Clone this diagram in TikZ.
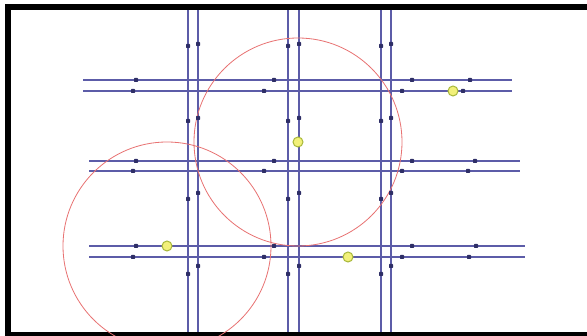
\documentclass[tikz,border=0pt]{standalone}
\usepackage{xcolor}
\definecolor{trackblue}{HTML}{5C5CA8}
\definecolor{stopnavy}{HTML}{2E2E66}
\definecolor{reachred}{HTML}{E87272}
\definecolor{hubfill}{HTML}{F2F07A}
\definecolor{hubrim}{HTML}{A8B83A}
\usepackage{tikz}
\usetikzlibrary{positioning}

\begin{document}
\begin{tikzpicture}[x=1pt, y=-1pt,
      track/.style={draw=trackblue, line width=1.2pt},
      reach/.style={draw=reachred, line width=0.8pt},
      stop/.style={fill=stopnavy, rounded corners=0.6pt, inner sep=0pt, minimum size=4pt},
      hub/.style={circle, draw=hubrim, fill=hubfill, line width=1pt, inner sep=0pt, minimum size=10pt}
    ]
    \useasboundingbox (0,0) rectangle (587,336);
    % frame
    \fill[black] (5,4) rectangle (587,336);
    \fill[white] (11,10) rectangle (587,332);
    % vertical tracks
    \foreach \x/\n in {188/va,198/vb,288/vc,299/vd,381/ve,391/vf} {
      \coordinate (\n top) at (\x,10);
      \coordinate (\n bot) at (\x,332);
      \draw[track] (\n top) -- (\n bot);
    }
    % horizontal tracks
    \foreach \y/\l/\r/\n in {80/83/512/ha,91/83/512/hb,161/89/520/hc,171/89/520/hd,246/89/525/he,257/89/525/hf} {
      \coordinate (\n west) at (\l,\y);
      \coordinate (\n east) at (\r,\y);
      \draw[track] (\n west) -- (\n east);
    }
    % coverage circles round two hubs
    \coordinate (midc) at (298,142);
    \coordinate (westc) at (167,246);
    \draw[reach] (midc) circle[radius=104];
    \draw[reach] (westc) circle[radius=104];
    % stops on horizontal tracks
    \foreach \y/\e in {80/470,161/475,246/476} {
      \foreach \x in {136,274,412,\e}
        \node[stop] at (\x,\y) {};
    }
    \foreach \y/\e in {91/463,171/468,257/469} {
      \foreach \x in {133,264,402,\e}
        \node[stop] at (\x,\y) {};
    }
    % stops on vertical tracks
    \foreach \x in {188,288,381} {
      \foreach \y in {46,121,199,274}
        \node[stop] at (\x,\y) {};
    }
    \foreach \x in {198,299,391} {
      \foreach \y in {44,118,193,266}
        \node[stop] at (\x,\y) {};
    }
    % hubs
    \node[hub] (hubtop) at (453,91) {};
    \node[hub] (hubmid) at (midc) {};
    \node[hub] (hubwest) at (westc) {};
    \node[hub] (hubsouth) at (348,257) {};
  \end{tikzpicture}
\end{document}
